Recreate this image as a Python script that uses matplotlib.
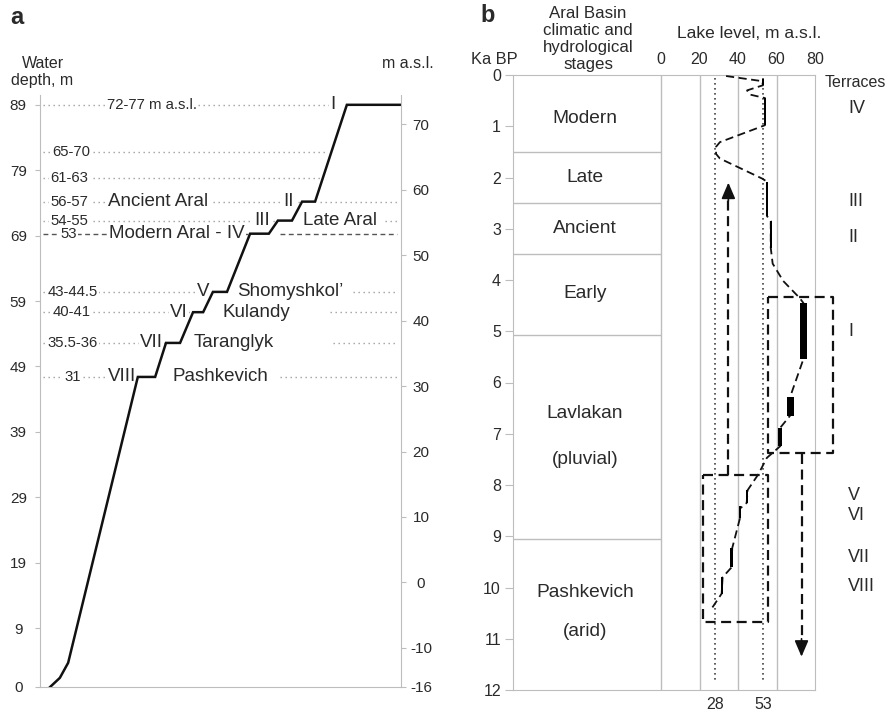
import matplotlib
matplotlib.use("Agg")
import matplotlib.pyplot as plt

plt.rcParams['font.family'] = ['Liberation Sans', 'DejaVu Sans']
plt.rcParams['axes.unicode_minus'] = False

GRAY = '#bdbdbd'
TXT = '#2a2a2a'
W, H = 894, 715

# ---------------- panel a: profile of terraces ----------------
datum_offset = 16  # water depth - 16 = m a.s.l.
profile_x = [2.8, 5.5, 7.8, 27.1, 31.9, 34.9, 38.8, 42.4, 45.2, 47.9, 51.8,
             58.2, 63.4, 65.9, 69.8, 72.6, 76.2, 85.0, 99.7]
profile_depth = [0, 1.4, 3.7, 47.4, 47.4, 52.6, 52.6, 57.3, 57.3, 60.4, 60.4,
                 69.3, 69.3, 71.3, 71.3, 74.2, 74.2, 89, 89]
depth_ticks = [0, 9, 19, 29, 39, 49, 59, 69, 79, 89]
asl_ticks = [70, 60, 50, 40, 30, 20, 10, 0, -10, -16]

ref_levels = [73.0, 65.8, 61.8, 58.2, 55.3, 53.3, 44.4, 41.3, 36.6, 31.4]
ref_labels = ['72-77 m a.s.l.', '65-70', '61-63', '56-57', '54-55', '53',
              '43-44.5', '40-41', '35.5-36', '31']
modern_level = 53.3

# ---------------- panel b: lake level curve ----------------
ka_ticks = list(range(13))
stage_bounds = [0, 1.5, 2.5, 3.5, 5.08, 9.05, 12]
stage_labels = [('Modern', 0.85), ('Late', 2.0), ('Ancient', 3.0), ('Early', 4.27),
                ('Lavlakan', 6.6), ('(pluvial)', 7.5),
                ('Pashkevich', 10.1), ('(arid)', 10.85)]
level_ticks = [0, 20, 40, 60, 80]

curve_level = [33.8, 52.5, 53, 44.7, 46.0, 54, 54, 30.6, 28.6, 28.6, 30.6, 52.5,
               55, 55, 57, 57, 58, 63.5, 72, 74, 74, 67, 67, 62, 62, 55, 50.4,
               45, 44.5, 41, 41, 37, 36.8, 32, 31.5, 26.5]
curve_ka = [0.02, 0.12, 0.2, 0.30, 0.38, 0.45, 0.98, 1.31, 1.4, 1.54, 1.63, 2.02,
            2.08, 2.75, 2.85, 3.37, 3.68, 4.02, 4.35, 4.45, 5.54, 6.29, 6.65, 6.88,
            7.24, 7.47, 7.8, 8.1, 8.35, 8.46, 8.65, 9.23, 9.6, 9.8, 10.12, 10.4]

bar_lo = [52.4, 53.4, 54.4, 56.4, 72, 65.5, 61, 44, 40.4, 36, 31]
bar_hi = [53.6, 54.6, 55.6, 57.6, 76, 69, 63, 45.4, 41.6, 37.4, 32.4]
bar_top = [0.07, 0.45, 2.08, 2.85, 4.45, 6.29, 6.88, 8.1, 8.4, 9.23, 9.8]
bar_bot = [0.2, 0.98, 2.75, 3.37, 5.54, 6.65, 7.24, 8.35, 8.65, 9.6, 10.12]

threshold_levels = [28, 53]
box_left = [55.6, 22]
box_right = [89.4, 55.6]
box_top = [4.33, 7.8]
box_bot = [7.37, 10.67]

arrow_level = [35, 73]
arrow_from = [7.8, 7.4]
arrow_to = [2.1, 11.35]

terraces = [('IV', 0.65), ('III', 2.46), ('II', 3.17), ('I', 5.0),
            ('V', 8.21), ('VI', 8.6), ('VII', 9.41), ('VIII', 9.98)]


def ftext(px, py, s, **kw):
    kw.setdefault('color', TXT)
    fig.text(px / W, 1 - py / H, s, **kw)


fig = plt.figure(figsize=(W / 100, H / 100), dpi=100)

# ===== panel a =====
ax = fig.add_axes([40 / W, 1 - 687 / H, (401 - 40) / W, (687 - 95) / H])
ax.set_xlim(0, 100)
ax.set_ylim(0, 90.5)
for s in ['top', 'right']:
    ax.spines[s].set_visible(False)
for s in ['left', 'bottom']:
    ax.spines[s].set_color(GRAY)
ax.set_xticks([])
ax.set_yticks(depth_ticks)
ax.tick_params(axis='y', length=3.6, color=GRAY, labelsize=11,
               labelcolor=TXT, pad=12)
for t in ax.get_yticklabels():
    t.set_ha('center')

ax2 = ax.twinx()
ax2.set_ylim(0 - datum_offset, 90.5 - datum_offset)
for s in ['top', 'left', 'bottom']:
    ax2.spines[s].set_visible(False)
ax2.spines['right'].set_color(GRAY)
ax2.set_yticks(asl_ticks)
ax2.tick_params(axis='y', length=3.6, color=GRAY, labelsize=11,
                labelcolor=TXT, pad=10.8)
for t in ax2.get_yticklabels():
    t.set_ha('center')

# x extents of the reference lines (plot units)
ref_spans = [[(0.8, 80.3)], [(0.8, 79.8)], [(0.8, 77.6)],
             [(0.8, 72.6), (77.6, 98.9)], [(0.8, 65.9), (95.6, 98.9)],
             [(0.8, 58.2), (66.5, 98.9)], [(0.8, 47.9), (86.7, 98.9)],
             [(0.8, 42.4), (80.3, 98.9)], [(0.8, 34.9), (81.2, 98.9)],
             [(0.8, 27.1), (66.5, 98.9)]]
for lev, spans in zip(ref_levels, ref_spans):
    if lev == modern_level:
        kw = dict(color='#555555', lw=1.0, linestyle=(0, (3.5, 2.5)))
    else:
        kw = dict(color='#a0a0a0', lw=1.0, linestyle=(0, (1, 2.6)))
    for x0, x1 in spans:
        ax.hlines(lev + datum_offset, x0, x1, zorder=1, **kw)

white = dict(facecolor='white', edgecolor='none', pad=1.0)
range_x = [31.0, 8.6, 8.2, 8.2, 8.2, 7.9, 9.1, 8.7, 9.1, 9.0]
for s, lev, x in zip(ref_labels, ref_levels, range_x):
    ax.text(x, lev + datum_offset, s, fontsize=10.7, ha='center', va='center',
            color=TXT, bbox=white, zorder=3)

stage_text = [('I', 81.2, 73.0), ('Ancient Aral', 32.8, 58.2), ('II', 68.7, 58.2),
              ('III', 61.6, 55.3), ('Late Aral', 83.2, 55.3),
              ('Modern Aral - IV', 38.0, 53.3), ('V', 45.3, 44.4),
              ('Shomyshkol\u2019', 69.3, 44.4), ('VI', 38.5, 41.3),
              ('Kulandy', 60.0, 41.3), ('VII', 30.9, 36.6),
              ('Taranglyk', 53.7, 36.6), ('VIII', 22.6, 31.4),
              ('Pashkevich', 50.1, 31.4)]
for s, x, lev in stage_text:
    ax.text(x, lev + datum_offset, s, fontsize=13.5, ha='center', va='center',
            color=TXT, bbox=white, zorder=3)

ax.plot(profile_x, profile_depth, color='#111111', lw=1.8, zorder=5,
        solid_joinstyle='miter')

ftext(17, 17, 'a', fontsize=17, fontweight='bold', ha='center', va='center')
ftext(42.5, 72, 'Water\ndepth, m', fontsize=11.5, ha='center', va='center',
      multialignment='center', linespacing=1.2)
ftext(408, 63, 'm a.s.l.', fontsize=11.5, ha='center', va='center')

# ===== panel b =====
axb = fig.add_axes([513 / W, 1 - 690 / H, (815 - 513) / W, (690 - 75) / H])
axb.set_xlim(-76.9, 80)
axb.set_ylim(12, 0)
for s in axb.spines.values():
    s.set_color(GRAY)
axb.set_yticks(ka_ticks)
axb.tick_params(axis='y', length=5.8, color=GRAY, labelsize=11.5,
                labelcolor=TXT, pad=2.9)
axb.xaxis.set_ticks_position('top')
axb.set_xticks(level_ticks)
axb.tick_params(axis='x', length=0, labelsize=11.5, labelcolor=TXT, pad=6.0)

for lv in level_ticks[:-1]:
    axb.axvline(lv, color=GRAY, lw=1.0, zorder=1)
for b in stage_bounds[1:-1]:
    axb.hlines(b, -76.9, 0, color=GRAY, lw=1.0, zorder=1)
for s, k in stage_labels:
    axb.text(-39.5, k, s, fontsize=13.8, ha='center', va='center', color=TXT)

for lv in threshold_levels:
    axb.vlines(lv, 0.05, 11.8, color='#444444', lw=1.2,
               linestyles=[(0, (1, 2))], zorder=2)
    axb.text(lv, 12.28, str(lv), fontsize=11.5, ha='center', va='center',
             color=TXT, clip_on=False)

axb.plot(curve_level, curve_ka, color='#111111', lw=1.3,
         linestyle=(0, (4.5, 2.5)), zorder=3)
axb.barh([(t + b) / 2 for t, b in zip(bar_top, bar_bot)],
         [h - l for h, l in zip(bar_hi, bar_lo)], left=bar_lo,
         height=[b - t for t, b in zip(bar_top, bar_bot)],
         color='black', zorder=4)

for l, r, t, b in zip(box_left, box_right, box_top, box_bot):
    axb.plot([l, r, r, l, l], [t, t, b, b, t], color='#111111', lw=1.6,
             linestyle=(0, (4.5, 2.5)), clip_on=False, zorder=4)

for x, y0, y1 in zip(arrow_level, arrow_from, arrow_to):
    d = 1 if y1 > y0 else -1
    axb.plot([x, x], [y0, y1 - d * 0.3], color='#111111', lw=1.6,
             linestyle=(0, (4.5, 2.5)), zorder=4)
    axb.annotate('', xy=(x, y1), xytext=(x, y1 - d * 0.35),
                 arrowprops=dict(arrowstyle='-|>,head_width=0.3,head_length=0.7',
                                 color='#111111', lw=1.2, shrinkA=0, shrinkB=0,
                                 mutation_scale=14), zorder=5)

axb.text(85.2, 0.15, 'Terraces', fontsize=11.5, ha='left', va='center',
         color=TXT, clip_on=False)
for s, k in terraces:
    axb.text(97.1, k, s, fontsize=13, ha='left', va='center', color=TXT,
             clip_on=False)

ftext(488, 15, 'b', fontsize=17, fontweight='bold', ha='center', va='center')
ftext(494, 60, 'Ka BP', fontsize=11.8, ha='center', va='center')
ftext(588, 39, 'Aral Basin\nclimatic and\nhydrological\nstages', fontsize=12.2,
      ha='center', va='center', multialignment='center', linespacing=1.15)
ftext(749, 33, 'Lake level, m a.s.l.', fontsize=12.5, ha='center', va='center')

fig.savefig('out.png', dpi=100)
